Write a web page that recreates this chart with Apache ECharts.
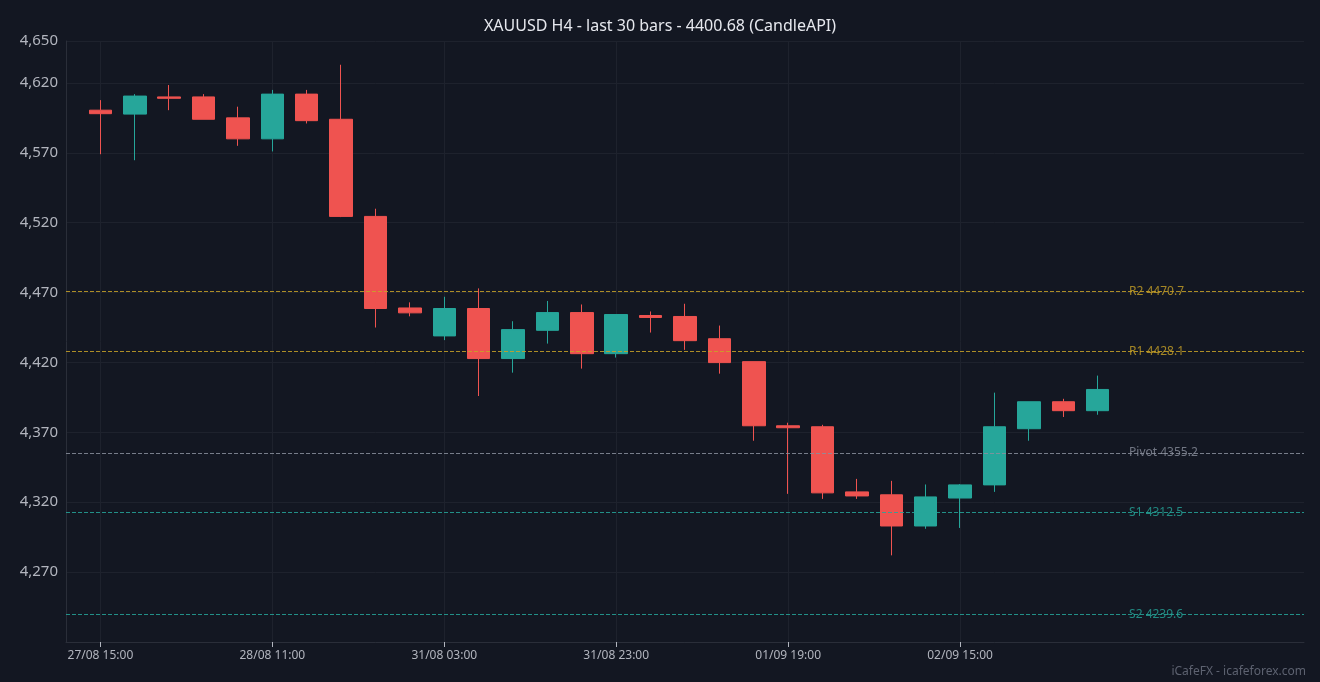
<!DOCTYPE html>
<html><head><meta charset="utf-8">
<script src="https://cdn.jsdelivr.net/npm/echarts@6/dist/echarts.min.js"></script>
<style>html,body{margin:0;padding:0;background:#131722;}#c{width:1320px;height:682px;}</style>
</head><body><div id="c"></div>
<script>
const labels = ['', '27/08 15:00','27/08 19:00','27/08 23:00','28/08 03:00','28/08 07:00','28/08 11:00','28/08 15:00','28/08 19:00','29/08 11:00','29/08 19:00',
 '31/08 03:00','31/08 07:00','31/08 11:00','31/08 15:00','31/08 19:00','31/08 23:00','01/09 03:00','01/09 07:00','01/09 11:00','01/09 15:00',
 '01/09 19:00','01/09 23:00','02/09 03:00','02/09 07:00','02/09 11:00','02/09 15:00','02/09 19:00','02/09 23:00','03/09 03:00','03/09 07:00',
 '', '', '', '', '', ''];
const labelIdx = [1, 6, 11, 16, 21, 26];
// [open, close, low, high]
const bars = [
 [4600.5,4598,4569,4607.7],[4597.7,4610.6,4564.7,4612],[4610,4609,4600.5,4618.5],[4610,4594,4594,4612],
 [4595,4580,4575,4603],[4580,4612,4571,4615],[4612,4593,4591,4615],[4594,4524.5,4524,4633],
 [4524.5,4458.6,4445,4530],[4459,4455.5,4453,4463],[4439,4458.6,4436,4467],[4458.6,4422.8,4396,4473],
 [4422.8,4443.5,4412.7,4449.5],[4443,4455.7,4433.5,4464],[4455.7,4426.3,4415.6,4461.5],[4426.3,4454.3,4423.5,4454.3],
 [4453.6,4452.2,4441.4,4456.5],[4452.9,4435.6,4429,4462],[4437,4419.9,4412,4446.4],[4420.6,4374.7,4364,4420.6],
 [4374.7,4373.3,4326,4376.9],[4374,4326.7,4322.4,4375.4],[4327.4,4324.5,4322.4,4336.7],[4325.3,4303,4282,4335.3],
 [4303,4323.8,4301,4332.7],[4323,4332.4,4301.6,4333],[4332.4,4374,4327.4,4398.4],[4372.6,4391.9,4364,4391.9],
 [4391.9,4385.5,4381,4394],[4385.5,4400.68,4382.6,4410.6]
];
const levelNames = ['R2','R1','Pivot','S1','S2'];
const levelValues = [4470.7,4428.1,4355.2,4312.5,4239.6];
const levelColors = ['#c9a227','#c9a227','#8a8f9c','#26a69a','#26a69a'];

const empty = ['-','-','-','-'];
const candleData = [empty].concat(bars);
while (candleData.length < labels.length) candleData.push(empty);
const chart = echarts.init(document.getElementById('c'));
chart.setOption({
  backgroundColor:'#131722',
  animation:false,
  title:{text:'XAUUSD H4 - last 30 bars - 4400.68 (CandleAPI)',left:'center',top:13,textStyle:{color:'#e6e8ee',fontSize:16,fontWeight:'normal',fontFamily:'Noto Sans'}},
  graphic:[{type:'text',right:14,bottom:4,style:{text:'iCafeFX - icafeforex.com',fill:'#5d6270',fontSize:12,fontFamily:'Noto Sans'}}],
  grid:{left:66,right:16,top:41,bottom:40},
  xAxis:{type:'category',data:labels,boundaryGap:false,
    axisLine:{show:true,lineStyle:{color:'#2a2e39'}},
    axisTick:{interval:(i)=>labelIdx.includes(i),lineStyle:{color:'#b2b5be'}},
    axisLabel:{interval:(i)=>labelIdx.includes(i),color:'#b2b5be',fontSize:12,fontFamily:'Noto Sans'},
    splitLine:{show:true,interval:(i)=>labelIdx.includes(i),lineStyle:{color:'#1e222d'}}},
  yAxis:{type:'value',min:4220,max:4650,interval:50,
    axisLine:{show:true,lineStyle:{color:'#2a2e39'}},
    axisLabel:{color:'#b2b5be',fontSize:15,fontFamily:'Noto Sans',showMinLabel:false},
    splitLine:{lineStyle:{color:'#1e222d'}}},
  series:[
    {type:'candlestick',data:candleData,barWidth:23,
     itemStyle:{color:'#26a69a',color0:'#ef5350',borderColor:'#26a69a',borderColor0:'#ef5350',borderWidth:1},
     markLine:{symbol:'none',silent:true,label:{show:false},
       data:levelValues.map((v,i)=>({yAxis:v,lineStyle:{color:levelColors[i],type:'dashed',width:1,opacity:0.85}}))}},
    {type:'scatter',symbolSize:0,silent:true,
     data:levelValues.map((v,i)=>({value:[31,v],label:{show:true,position:'right',distance:-3,
        formatter:levelNames[i]+' '+v.toFixed(1),color:levelColors[i],fontSize:12,fontFamily:'Noto Sans'}}))}
  ]
});
</script></body></html>
